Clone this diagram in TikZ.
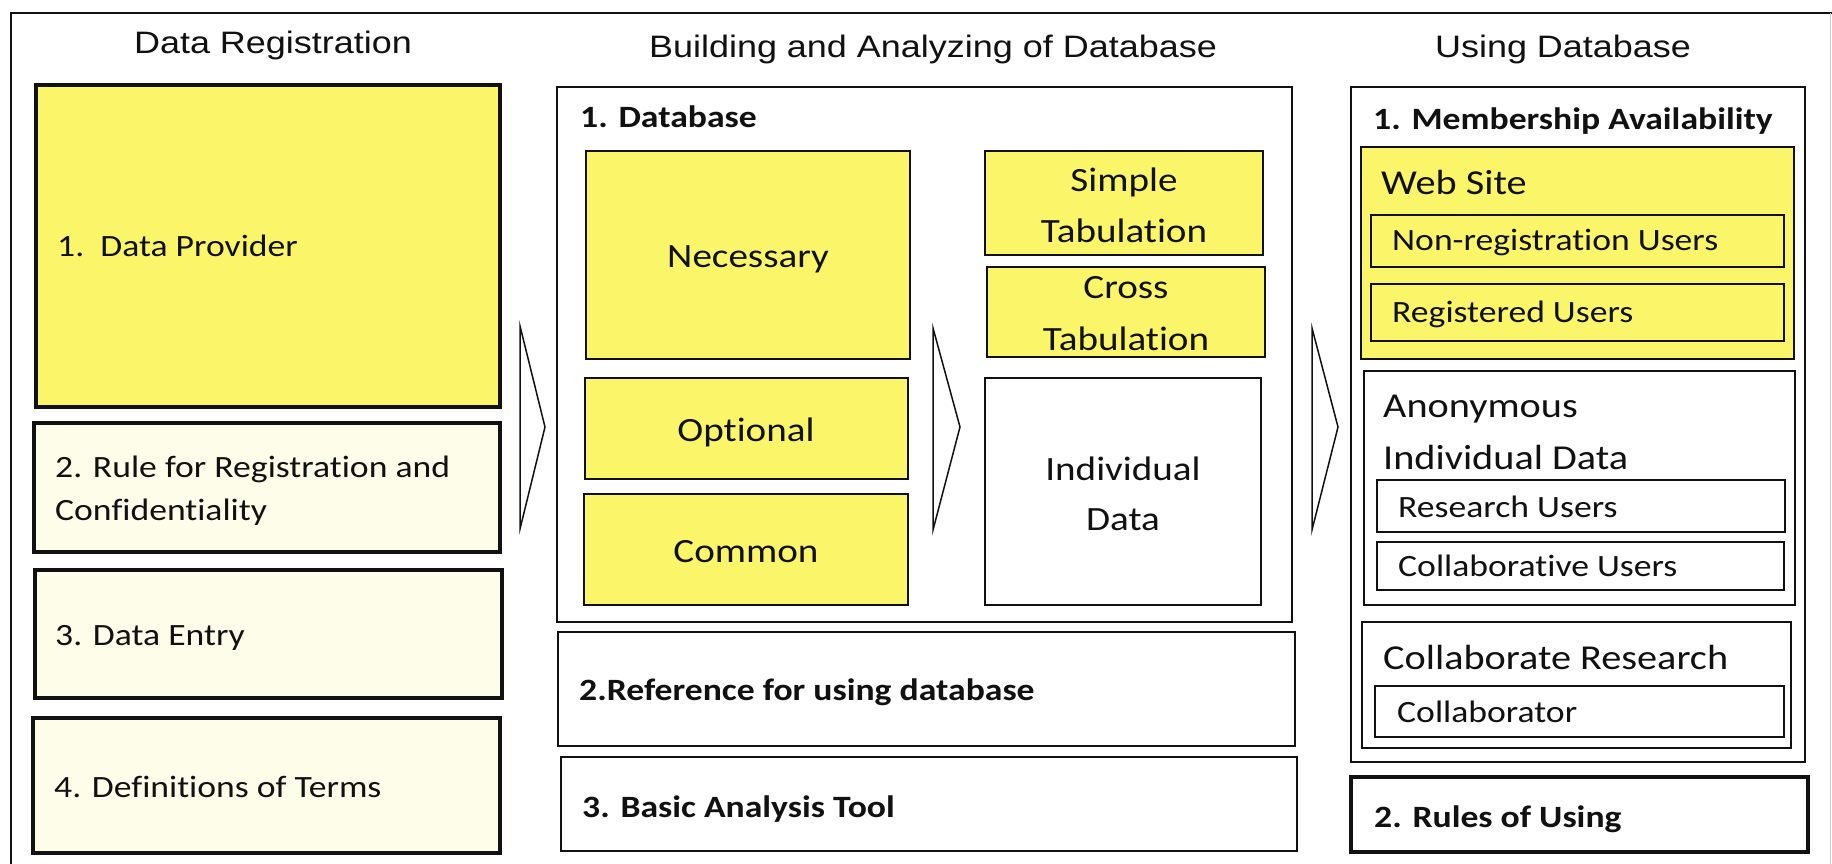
\documentclass[tikz,border=0pt]{standalone}
\usepackage{fontspec}
\setmainfont{Carlito}[FakeStretch=1.15, RawFeature={-liga;-clig;-calt;-dlig;-rlig}]
\newfontfamily\headfont{Liberation Sans}[FakeStretch=1.16]
\usetikzlibrary{fit}

\definecolor{hiyellow}{RGB}{250,245,105}
\definecolor{paleyellow}{RGB}{254,253,234}
\definecolor{ink}{RGB}{17,17,17}

\tikzset{
  frameline/.style={draw=ink, line width=2.2pt},
  heavybox/.style={draw=ink, line width=3.6pt, inner sep=0pt},
  mainbox/.style={draw=ink, line width=2.8pt, inner sep=0pt},
  thinbox/.style={draw=ink, line width=1.3pt, inner sep=0pt},
  chevron/.style={draw=ink, line width=1.5pt, line join=miter},
  head/.style={inner sep=0pt, anchor=base, text=ink, font=\headfont\fontsize{31}{37}\selectfont},
  txt/.style={inner sep=0pt, anchor=base west, text=ink, font=\fontsize{31}{37}\selectfont},
  bigtxt/.style={inner sep=0pt, anchor=base west, text=ink, font=\fontsize{35}{40}\selectfont},
  boldtxt/.style={inner sep=0pt, anchor=base west, text=ink, font=\bfseries\fontsize{31}{37}\selectfont},
  ctxt/.style={inner sep=0pt, anchor=base, text=ink, font=\fontsize{34}{40}\selectfont},
}

\begin{document}
\begin{tikzpicture}[x=1pt,y=-1pt]
\useasboundingbox (0,0) rectangle (1832,864);
\fill[white] (0,0) rectangle (1832,864);

% outer frame (open at the bottom)
\draw[frameline] (11,880) -- (11,13) -- (1832,13);
\draw[gray!45, line width=1pt] (1830,13) -- (1830,880);

% column headings
\node[head] (h1) at (273,54) {Data Registration};
\node[head] (h2) at (933,58) {Building and Analyzing of Database};
\node[head] (h3) at (1563,58) {Using Database};

% ---------------- Data Registration ----------------
\node[heavybox, fill=hiyellow,   fit={(36,85) (500,407)}]  (provider) {};
\node[heavybox, fill=paleyellow, fit={(34,423) (500,552)}] (rule) {};
\node[heavybox, fill=paleyellow, fit={(35,570) (502,698)}] (entry) {};
\node[heavybox, fill=paleyellow, fit={(33,718) (500,853)}] (terms) {};

\node[txt] (providerT) at (57,256) {1.\ \ Data Provider};
\node[txt] (ruleT1) at (55,477) {2. Rule for Registration and};
\node[txt] (ruleT2) at (55,520) {Confidentiality};
\node[txt] (entryT) at (55,645) {3. Data Entry};
\node[txt] (termsT) at (54,797) {4. Definitions of Terms};

% arrow into the database column
\draw[chevron] (520,326) -- (545,427) -- (520,529) -- cycle;

% ---------------- Building and Analyzing ----------------
\node[mainbox, fit={(557,87) (1292,622)}] (db) {};
\node[boldtxt] (dbT) at (580,128) {1. Database};

\node[thinbox, fill=hiyellow, fit={(586,151) (910,359)}] (necessary) {};
\node[thinbox, fill=hiyellow, fit={(585,378) (908,479)}] (optional) {};
\node[thinbox, fill=hiyellow, fit={(584,494) (908,605)}] (common) {};
\node[ctxt] (necessaryT) at (748,267) {Necessary};
\node[ctxt] (optionalT) at (746,441) {Optional};
\node[ctxt] (commonT) at (746,562) {Common};

\node[thinbox, fill=hiyellow, fit={(985,151) (1263,255)}] (simple) {};
\node[thinbox, fill=hiyellow, fit={(987,267) (1265,357)}] (cross) {};
\node[thinbox, fill=white,    fit={(985,378) (1261,605)}] (indiv) {};
\node[ctxt] (simpleT1) at (1124,192) {Simple};
\node[ctxt] (simpleT2) at (1124,242) {Tabulation};
\node[ctxt] (crossT1) at (1126,298) {Cross};
\node[ctxt] (crossT2) at (1126,350) {Tabulation};
\node[ctxt] (indivT1) at (1123,480) {Individual};
\node[ctxt] (indivT2) at (1123,530) {Data};

% arrow from the source tables to the tabulations
\draw[chevron] (933,328) -- (960,427) -- (933,530) -- cycle;

\node[mainbox, fit={(558,632) (1295,746)}] (reference) {};
\node[boldtxt] (referenceT) at (579,700) {2.Reference for using database};
\node[mainbox, fit={(561,757) (1297,851)}] (tool) {};
\node[boldtxt] (toolT) at (582,817) {3. Basic Analysis Tool};

% arrow into the using column
\draw[chevron] (1312,328) -- (1338,427) -- (1312,530) -- cycle;

% ---------------- Using Database ----------------
\node[mainbox, fit={(1351,87) (1805,762)}] (member) {};
\node[boldtxt] (memberT) at (1373,130) {1. Membership Availability};

\node[thinbox, fill=hiyellow, fit={(1361,147) (1794,359)}] (web) {};
\node[bigtxt] (webT) at (1381,194) {Web Site};
\node[thinbox, fit={(1371,215) (1784,267)}] (nonreg) {};
\node[txt] (nonregT) at (1392,250) {Non-registration Users};
\node[thinbox, fit={(1371,284) (1784,341)}] (registered) {};
\node[txt] (registeredT) at (1392,322) {Registered Users};

\node[thinbox, fill=white, fit={(1364,371) (1795,605)}] (anon) {};
\node[bigtxt] (anonT1) at (1383,417) {Anonymous};
\node[bigtxt] (anonT2) at (1383,469) {Individual Data};
\node[thinbox, fit={(1377,480) (1785,532)}] (research) {};
\node[txt] (researchT) at (1398,517) {Research Users};
\node[thinbox, fit={(1377,542) (1784,590)}] (collabusers) {};
\node[txt] (collabusersT) at (1398,576) {Collaborative Users};

\node[thinbox, fill=white, fit={(1362,622) (1791,748)}] (collabres) {};
\node[bigtxt] (collabresT) at (1383,669) {Collaborate Research};
\node[thinbox, fit={(1375,686) (1784,737)}] (collaborator) {};
\node[txt] (collaboratorT) at (1397,722) {Collaborator};

\node[heavybox, fit={(1351,777) (1808,852)}] (rules) {};
\node[boldtxt] (rulesT) at (1374,827) {2. Rules of Using};
\end{tikzpicture}
\end{document}
